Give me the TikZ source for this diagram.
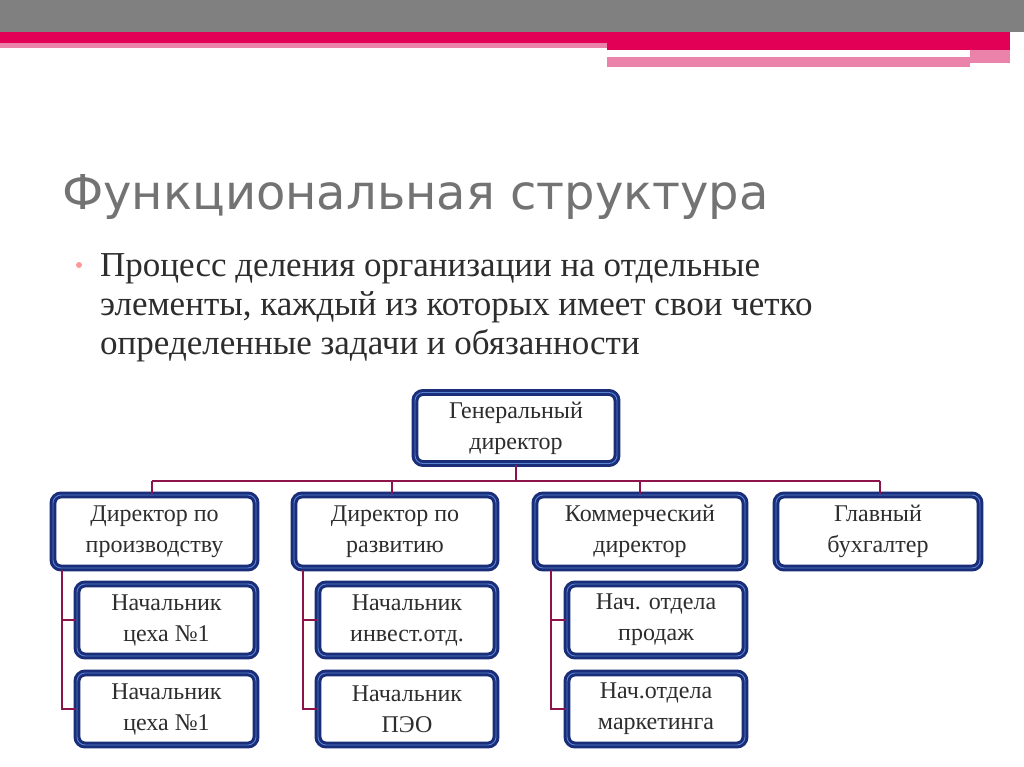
\documentclass[tikz,border=0pt]{standalone}
\usepackage{fontspec}
\setmainfont{Liberation Serif}
\newfontfamily\titlefont{DejaVu Sans}
\definecolor{lnk}{RGB}{140,20,75}
\definecolor{bdr}{RGB}{25,45,120}
\definecolor{bdri}{RGB}{90,130,210}
\definecolor{pinkd}{RGB}{225,0,85}
\definecolor{pinkl}{RGB}{235,130,170}
\definecolor{txt}{RGB}{45,45,45}
\tikzset{
  bx/.style={draw=bdr,line width=3pt,double=bdri,double distance=0.9pt,rounded corners=8pt,fill=white,
    align=center,font=\fontsize{24}{31}\selectfont,text=txt,inner sep=0pt},
  ln/.style={draw=lnk,line width=2.8pt},
  btxt/.style={anchor=base west,inner sep=0pt,text=txt,font=\fontsize{35}{39}\selectfont}
}
\begin{document}
\begin{tikzpicture}[x=1pt,y=-1pt]
\useasboundingbox (0,0) rectangle (1024,767);
\fill[white] (0,0) rectangle (1024,767);
% top bar
\fill[black!50] (0,0) rectangle (1024,32);
\fill[pinkd] (0,32) rectangle (1010,43);
\fill[pinkl] (0,43) rectangle (607,48);
\fill[pinkd] (607,43) rectangle (1010,50);
\fill[pinkl] (607,57) rectangle (970,67);
\fill[pinkl] (970,50) rectangle (1010,63);
% title
\node[anchor=base west,inner sep=0pt,text=black!55,font=\titlefont\fontsize{48}{56}\selectfont] (title) at (62,210) {Функциональная структура};
\fill[pink!80!red] (79,265) circle (3pt);
\node[btxt] (t1) at (100,276) {Процесс деления организации на отдельные};
\node[btxt] (t2) at (100,315) {элементы, каждый из которых имеет свои четко};
\node[btxt] (t3) at (100,354) {определенные задачи и обязанности};
% boxes
\node[bx,minimum width=202pt,minimum height=71pt] (gd) at (516,428) {Генеральный\\директор};
\node[bx,minimum width=203pt,minimum height=73pt] (d1) at (154.5,531.5) {Директор по\\производству};
\node[bx,minimum width=202pt,minimum height=73pt] (d2) at (395,531.5) {Директор по\\развитию};
\node[bx,minimum width=210pt,minimum height=73pt] (d3) at (640,531.5) {Коммерческий\\директор};
\node[bx,minimum width=204pt,minimum height=73pt] (d4) at (878,531.5) {Главный\\бухгалтер};
\node[bx,minimum width=179pt,minimum height=72pt] (a1) at (166.5,620) {Начальник\\цеха №1};
\node[bx,minimum width=179pt,minimum height=72pt] (a2) at (166.5,709) {Начальник\\цеха №1};
\node[bx,minimum width=178pt,minimum height=72pt] (b1) at (407,620) {Начальник\\инвест.отд.};
\node[bx,minimum width=178pt,minimum height=72pt] (b2) at (407,709) {Начальник\\ПЭО};
\node[bx,minimum width=178pt,minimum height=72pt] (c1) at (656,620) {Нач. отдела\\продаж};
\node[bx,minimum width=178pt,minimum height=72pt] (c2) at (656,709) {Нач.отдела\\маркетинга};
% connectors
\coordinate (bl) at (152,481); \coordinate (br) at (880,481);
\draw[ln] (gd.south) -- (gd.south |- bl);
\draw[ln] (bl) -- (br);
\draw[ln] (bl) -- (d1.north -| bl);
\draw[ln] (392,481) -- (d2.north -| 392,0);
\draw[ln] (640,481) -- (d3.north);
\draw[ln] (br) -- (d4.north -| br);
\foreach \d/\p/\q/\x in {d1/a1/a2/62,d2/b1/b2/303,d3/c1/c2/551}{
  \draw[ln] (\d.south -| \x,0) |- (\q.west);
  \draw[ln] (\p.west -| \x,0) -- (\p.west);
}
\end{tikzpicture}
\end{document}
